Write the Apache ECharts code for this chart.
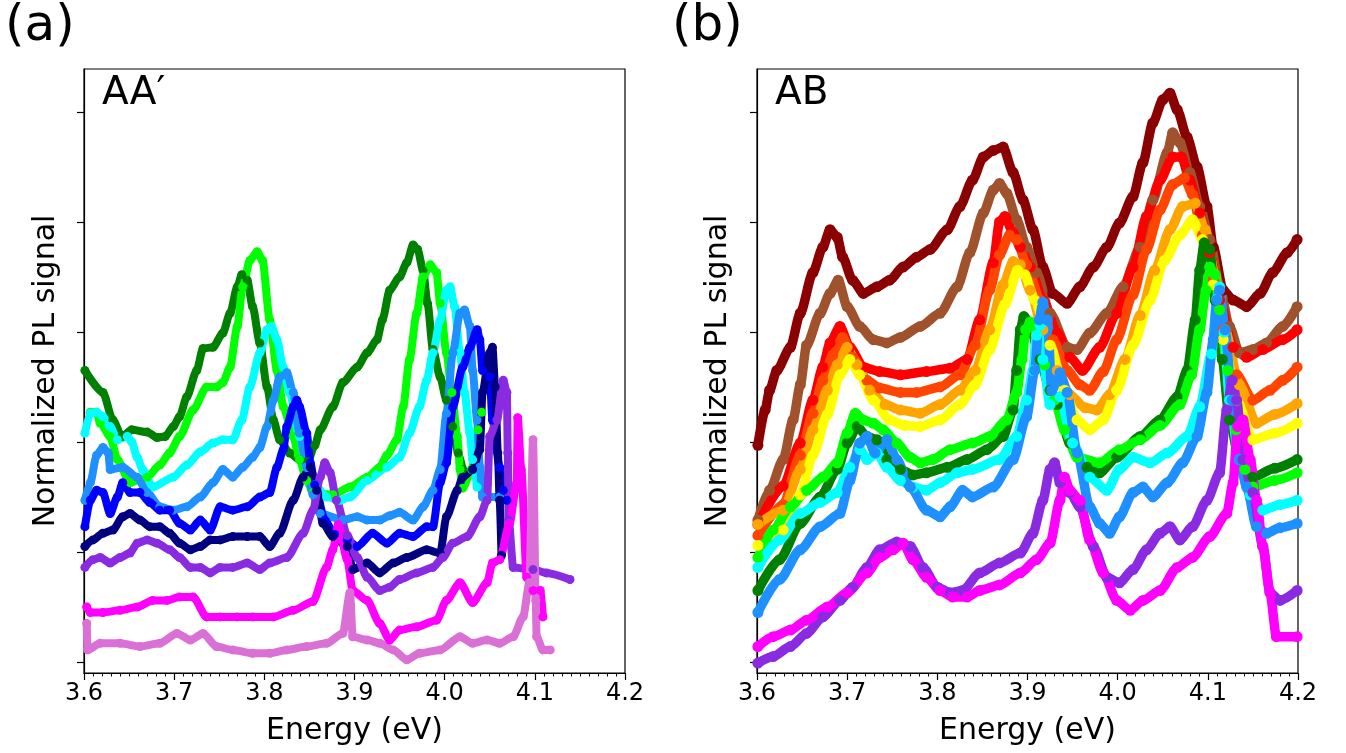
<!DOCTYPE html>
<html>
<head>
<meta charset="utf-8">
<script src="https://cdn.jsdelivr.net/npm/echarts@6/dist/echarts.min.js"></script>
<style>
html,body{margin:0;padding:0;background:#fff;}
#chart{width:1346px;height:753px;}
</style>
</head>
<body>
<div id="chart"></div>
<script>
// ---------------- DATA ----------------
var xTicks = [3.6, 3.7, 3.8, 3.9, 4.0, 4.1, 4.2];
var yTicks = [0, 1, 2, 3, 4, 5];
var panelLabels = ['(a)', '(b)'];
var stackLabels = ['AA\u2032', 'AB'];
var xTitle = 'Energy (eV)';
var yTitle = 'Normalized PL signal';

// Panel (a) AA'
var aGreen = [[3.601,2.65],[3.621,2.45],[3.632,2.20],[3.642,2.05],[3.653,2.11],[3.670,2.09],[3.681,2.04],[3.690,2.05],[3.699,2.14],[3.706,2.23],[3.714,2.41],[3.725,2.65],[3.732,2.85],[3.743,2.86],[3.754,2.99],[3.762,3.17],[3.770,3.41],[3.775,3.52],[3.781,3.47],[3.787,3.23],[3.795,2.90],[3.803,2.50],[3.810,2.20],[3.817,2.02],[3.828,1.90],[3.839,1.84],[3.848,1.82],[3.856,1.97],[3.862,2.11],[3.876,2.32],[3.887,2.54],[3.903,2.68],[3.914,2.81],[3.925,2.93],[3.931,3.11],[3.939,3.38],[3.950,3.50],[3.958,3.63],[3.965,3.79],[3.970,3.75],[3.976,3.56],[3.981,3.26],[3.987,2.84],[3.995,2.59],[4.002,2.38],[4.009,2.14],[4.015,1.90],[4.020,1.75]];
var aLime = [[3.607,2.27],[3.614,2.27],[3.618,2.17],[3.629,2.05],[3.637,1.84],[3.651,1.63],[3.670,1.68],[3.684,1.79],[3.695,1.90],[3.706,2.05],[3.721,2.29],[3.736,2.50],[3.747,2.50],[3.754,2.54],[3.762,2.68],[3.770,3.05],[3.776,3.41],[3.784,3.65],[3.792,3.73],[3.798,3.65],[3.806,3.11],[3.814,2.65],[3.821,2.32],[3.832,2.05],[3.839,1.84],[3.847,1.65],[3.854,1.54],[3.876,1.52],[3.895,1.59],[3.914,1.68],[3.928,1.77],[3.936,1.88],[3.947,2.02],[3.954,2.32],[3.961,2.75],[3.969,3.17],[3.976,3.50],[3.984,3.61],[3.991,3.54],[3.995,3.26],[4.002,2.81],[4.008,2.45],[4.014,2.05],[4.017,1.75],[4.020,1.58],[4.030,1.75],[4.037,2.11],[4.041,2.27]];
var aCyan = [[3.601,2.08],[3.607,2.26],[3.614,2.27],[3.621,2.23],[3.629,2.14],[3.637,2.02],[3.648,2.05],[3.653,2.00],[3.659,1.86],[3.665,1.75],[3.676,1.59],[3.699,1.68],[3.714,1.79],[3.729,1.91],[3.743,1.99],[3.754,2.02],[3.765,2.02],[3.775,2.20],[3.784,2.50],[3.795,2.81],[3.803,3.02],[3.808,3.05],[3.814,2.93],[3.821,2.68],[3.828,2.45],[3.839,2.05],[3.847,1.77],[3.856,1.61],[3.869,1.50],[3.884,1.47],[3.895,1.50],[3.914,1.65],[3.936,1.77],[3.950,1.86],[3.961,2.08],[3.972,2.32],[3.980,2.56],[3.987,2.81],[3.995,3.11],[4.002,3.38],[4.006,3.41],[4.011,3.23],[4.017,2.81],[4.022,2.45],[4.028,2.08],[4.031,1.84],[4.036,1.59]];
var aDodger = [[3.601,1.47],[3.607,1.63],[3.614,1.88],[3.621,1.95],[3.627,1.90],[3.629,1.75],[3.643,1.77],[3.659,1.68],[3.670,1.54],[3.684,1.41],[3.699,1.38],[3.714,1.41],[3.729,1.50],[3.743,1.63],[3.754,1.75],[3.765,1.68],[3.776,1.77],[3.787,1.86],[3.795,1.95],[3.803,2.14],[3.810,2.38],[3.817,2.59],[3.825,2.63],[3.832,2.45],[3.839,2.08],[3.847,1.77],[3.854,1.52],[3.862,1.35],[3.887,1.29],[3.903,1.32],[3.914,1.29],[3.928,1.29],[3.939,1.33],[3.950,1.36],[3.965,1.29],[3.976,1.41],[3.987,1.56],[3.995,1.75],[4.002,2.26],[4.009,2.81],[4.017,3.17],[4.022,3.20],[4.028,3.05],[4.031,2.65],[4.036,2.20],[4.039,1.77],[4.042,1.50],[4.061,1.50]];
var aBlue = [[3.601,1.23],[3.607,1.47],[3.614,1.56],[3.621,1.54],[3.629,1.35],[3.637,1.50],[3.643,1.63],[3.651,1.54],[3.662,1.54],[3.673,1.45],[3.684,1.38],[3.695,1.38],[3.706,1.26],[3.718,1.20],[3.729,1.29],[3.740,1.20],[3.751,1.41],[3.765,1.38],[3.781,1.41],[3.795,1.50],[3.806,1.54],[3.814,1.77],[3.821,1.93],[3.825,2.14],[3.832,2.32],[3.836,2.38],[3.839,2.32],[3.847,2.08],[3.851,1.81],[3.856,1.61],[3.867,1.29],[3.878,1.16],[3.892,1.11],[3.903,1.05],[3.920,1.17],[3.936,1.08],[3.950,1.17],[3.965,1.14],[3.980,1.23],[3.987,1.23],[3.995,1.63],[4.002,1.81],[4.009,2.32],[4.020,2.68],[4.028,2.86],[4.036,3.02],[4.039,2.93],[4.042,2.65],[4.050,2.59],[4.053,2.20],[4.061,1.77],[4.065,1.56],[4.069,1.47]];
var aNavy = [[3.601,1.05],[3.610,1.11],[3.621,1.17],[3.632,1.20],[3.643,1.32],[3.651,1.35],[3.662,1.29],[3.673,1.23],[3.684,1.23],[3.695,1.17],[3.706,1.08],[3.718,1.02],[3.729,1.05],[3.740,1.11],[3.751,1.11],[3.765,1.14],[3.781,1.14],[3.795,1.14],[3.806,1.05],[3.817,1.17],[3.832,1.47],[3.843,1.68],[3.851,1.77],[3.858,1.56],[3.865,1.26],[3.876,1.14],[3.892,1.05],[3.898,0.84],[3.914,0.90],[3.928,0.81],[3.943,0.90],[3.958,0.95],[3.980,1.02],[3.995,0.99],[4.002,1.32],[4.014,1.56],[4.020,1.68],[4.031,1.75],[4.039,1.93],[4.042,2.45],[4.050,2.81],[4.053,2.86],[4.056,2.50],[4.059,1.90],[4.061,1.47],[4.063,0.97]];
var aViolet = [[3.601,0.86],[3.610,0.93],[3.618,0.95],[3.629,0.90],[3.640,0.95],[3.651,0.99],[3.659,1.08],[3.670,1.11],[3.681,1.08],[3.695,1.02],[3.706,0.95],[3.718,0.86],[3.729,0.86],[3.740,0.81],[3.751,0.86],[3.765,0.86],[3.781,0.90],[3.795,0.84],[3.806,0.90],[3.825,0.95],[3.843,1.17],[3.854,1.38],[3.862,1.68],[3.867,1.81],[3.873,1.72],[3.880,1.47],[3.892,1.15],[3.903,0.95],[3.914,0.77],[3.928,0.65],[3.939,0.68],[3.950,0.75],[3.969,0.81],[3.987,0.86],[3.998,0.95],[4.009,1.08],[4.025,1.14],[4.039,1.32],[4.047,1.47],[4.050,2.05],[4.058,2.20],[4.065,2.56],[4.069,2.45],[4.070,1.90],[4.071,1.29],[4.076,0.86],[4.098,0.84],[4.113,0.81],[4.139,0.75]];
var aMagenta = [[3.603,0.50],[3.607,0.45],[3.621,0.45],[3.640,0.47],[3.659,0.50],[3.676,0.56],[3.692,0.56],[3.706,0.59],[3.721,0.59],[3.736,0.41],[3.751,0.41],[3.770,0.41],[3.787,0.41],[3.810,0.41],[3.832,0.47],[3.854,0.55],[3.869,0.86],[3.876,1.02],[3.882,1.25],[3.892,0.93],[3.898,0.65],[3.914,0.56],[3.928,0.35],[3.939,0.20],[3.950,0.29],[3.969,0.32],[3.991,0.38],[4.002,0.56],[4.017,0.72],[4.031,0.54],[4.047,0.72],[4.053,0.90],[4.061,0.93],[4.072,1.26],[4.080,1.63],[4.081,2.22],[4.085,1.75],[4.091,0.77],[4.098,0.65],[4.106,0.65],[4.109,0.41]];
var aOrchid = [[3.603,0.35],[3.604,0.11],[3.618,0.17],[3.640,0.17],[3.662,0.14],[3.684,0.17],[3.703,0.26],[3.718,0.20],[3.732,0.26],[3.747,0.14],[3.765,0.11],[3.787,0.08],[3.806,0.08],[3.825,0.11],[3.847,0.14],[3.869,0.17],[3.887,0.26],[3.895,0.63],[3.898,0.23],[3.914,0.20],[3.928,0.17],[3.943,0.11],[3.958,0.02],[3.972,0.08],[3.995,0.11],[4.017,0.23],[4.031,0.17],[4.047,0.20],[4.061,0.17],[4.076,0.23],[4.087,0.41],[4.094,0.72],[4.098,2.02],[4.101,0.56],[4.102,0.23],[4.109,0.11],[4.117,0.11]];

// Panel (b) AB
var bDarkred = [[3.601,1.97],[3.609,2.29],[3.614,2.47],[3.622,2.65],[3.637,2.86],[3.648,3.17],[3.662,3.54],[3.673,3.77],[3.681,3.93],[3.689,3.86],[3.695,3.68],[3.706,3.47],[3.718,3.35],[3.733,3.41],[3.747,3.47],[3.762,3.59],[3.777,3.68],[3.792,3.75],[3.811,3.93],[3.825,4.14],[3.839,4.38],[3.851,4.59],[3.862,4.65],[3.873,4.68],[3.884,4.45],[3.895,4.20],[3.906,3.93],[3.917,3.59],[3.928,3.35],[3.944,3.26],[3.958,3.41],[3.973,3.59],[3.988,3.77],[4.002,3.99],[4.017,4.23],[4.028,4.54],[4.039,4.90],[4.050,5.11],[4.058,5.17],[4.066,5.02],[4.077,4.77],[4.088,4.50],[4.099,4.14],[4.106,3.77],[4.117,3.38],[4.128,3.29],[4.143,3.23],[4.158,3.35],[4.172,3.54],[4.188,3.72],[4.199,3.84]];
var bSienna = [[3.601,1.29],[3.614,1.56],[3.629,1.84],[3.640,2.20],[3.648,2.52],[3.655,2.88],[3.670,3.17],[3.681,3.35],[3.690,3.47],[3.700,3.23],[3.714,3.05],[3.729,2.93],[3.744,2.90],[3.759,2.95],[3.781,3.05],[3.803,3.17],[3.822,3.41],[3.836,3.72],[3.851,4.08],[3.862,4.29],[3.869,4.35],[3.877,4.26],[3.888,4.02],[3.899,3.77],[3.910,3.54],[3.925,3.17],[3.944,2.86],[3.955,2.84],[3.969,2.99],[3.988,3.17],[4.006,3.41],[4.025,3.77],[4.039,4.20],[4.055,4.63],[4.061,4.81],[4.069,4.72],[4.080,4.45],[4.091,4.14],[4.102,3.84],[4.113,3.41],[4.124,3.05],[4.135,2.81],[4.150,2.84],[4.165,2.90],[4.183,3.05],[4.199,3.23]];
var bRed = [[3.601,1.25],[3.629,1.60],[3.648,1.99],[3.662,2.38],[3.673,2.68],[3.681,2.90],[3.692,3.05],[3.703,2.86],[3.718,2.68],[3.736,2.64],[3.759,2.61],[3.788,2.64],[3.814,2.67],[3.833,2.75],[3.847,3.11],[3.862,3.63],[3.869,4.00],[3.875,4.05],[3.884,3.90],[3.892,3.77],[3.903,3.59],[3.917,3.29],[3.933,2.99],[3.947,2.77],[3.961,2.65],[3.980,2.86],[3.999,3.17],[4.017,3.59],[4.032,4.05],[4.047,4.38],[4.061,4.59],[4.071,4.59],[4.080,4.38],[4.091,4.08],[4.102,3.72],[4.113,3.29],[4.128,2.86],[4.143,2.77],[4.161,2.84],[4.183,2.93],[4.199,3.02]];
var bOrangered = [[3.601,1.15],[3.629,1.43],[3.648,1.88],[3.662,2.26],[3.673,2.56],[3.684,2.79],[3.695,2.95],[3.706,2.77],[3.722,2.56],[3.736,2.49],[3.759,2.45],[3.777,2.45],[3.803,2.50],[3.825,2.61],[3.842,2.88],[3.858,3.38],[3.869,3.70],[3.880,3.88],[3.888,3.84],[3.899,3.61],[3.914,3.29],[3.928,2.93],[3.944,2.65],[3.958,2.52],[3.969,2.47],[3.984,2.64],[3.999,2.93],[4.017,3.34],[4.032,3.75],[4.047,4.11],[4.061,4.34],[4.074,4.40],[4.083,4.25],[4.094,3.88],[4.106,3.47],[4.117,3.02],[4.132,2.61],[4.150,2.38],[4.169,2.47],[4.183,2.56],[4.199,2.68]];
var bOrange = [[3.601,1.25],[3.629,1.38],[3.648,1.75],[3.662,2.11],[3.678,2.47],[3.689,2.70],[3.700,2.86],[3.711,2.70],[3.725,2.47],[3.742,2.34],[3.759,2.29],[3.781,2.26],[3.803,2.34],[3.825,2.47],[3.842,2.65],[3.858,3.02],[3.873,3.43],[3.884,3.64],[3.892,3.61],[3.903,3.38],[3.917,3.02],[3.933,2.65],[3.947,2.43],[3.964,2.31],[3.977,2.29],[3.991,2.43],[4.008,2.75],[4.025,3.15],[4.041,3.56],[4.058,3.93],[4.072,4.14],[4.086,4.17],[4.097,3.93],[4.108,3.52],[4.119,3.02],[4.135,2.52],[4.154,2.17],[4.174,2.25],[4.199,2.35]];
var bYellow = [[3.601,1.06],[3.629,1.20],[3.648,1.52],[3.662,1.88],[3.678,2.25],[3.692,2.61],[3.703,2.75],[3.714,2.61],[3.729,2.38],[3.747,2.20],[3.764,2.15],[3.781,2.14],[3.803,2.20],[3.825,2.34],[3.842,2.52],[3.858,2.84],[3.875,3.25],[3.889,3.56],[3.897,3.52],[3.908,3.29],[3.925,2.88],[3.941,2.47],[3.955,2.20],[3.969,2.11],[3.984,2.20],[3.999,2.47],[4.017,2.88],[4.036,3.29],[4.052,3.65],[4.069,3.88],[4.083,4.02],[4.094,3.84],[4.106,3.43],[4.117,2.93],[4.132,2.38],[4.150,2.02],[4.174,2.08],[4.199,2.17]];
var bGreen = [[3.601,0.65],[3.625,0.93],[3.648,1.26],[3.670,1.50],[3.689,1.75],[3.700,1.99],[3.711,2.14],[3.722,2.05],[3.733,2.02],[3.744,1.84],[3.759,1.75],[3.773,1.70],[3.788,1.72],[3.811,1.77],[3.833,1.84],[3.855,1.93],[3.873,2.05],[3.884,2.29],[3.888,2.65],[3.892,3.02],[3.896,3.14],[3.903,3.06],[3.914,2.75],[3.925,2.47],[3.933,2.34],[3.947,1.99],[3.966,1.77],[3.980,1.72],[3.999,1.86],[4.025,2.05],[4.047,2.20],[4.066,2.41],[4.077,2.65],[4.086,3.11],[4.091,3.56],[4.096,3.81],[4.102,3.75],[4.108,3.29],[4.116,2.75],[4.124,2.20],[4.135,1.84],[4.150,1.68],[4.174,1.76],[4.199,1.84]];
var bLime = [[3.601,0.95],[3.618,1.20],[3.637,1.41],[3.655,1.56],[3.673,1.68],[3.689,1.81],[3.700,2.08],[3.709,2.26],[3.718,2.20],[3.729,2.17],[3.740,2.11],[3.755,1.99],[3.770,1.86],[3.781,1.81],[3.795,1.84],[3.814,1.93],[3.839,1.99],[3.858,2.05],[3.877,2.20],[3.888,2.45],[3.894,2.75],[3.898,3.02],[3.903,3.09],[3.909,3.02],[3.919,2.70],[3.930,2.38],[3.941,2.11],[3.955,1.86],[3.980,1.81],[4.002,1.93],[4.025,2.02],[4.047,2.15],[4.069,2.34],[4.082,2.61],[4.091,3.02],[4.098,3.38],[4.102,3.59],[4.108,3.52],[4.113,3.20],[4.122,2.65],[4.131,2.11],[4.141,1.75],[4.150,1.59],[4.174,1.65],[4.199,1.72]];
var bCyan = [[3.601,0.86],[3.625,1.11],[3.648,1.35],[3.670,1.45],[3.689,1.54],[3.703,1.77],[3.714,1.93],[3.722,1.84],[3.733,1.90],[3.744,1.77],[3.759,1.65],[3.773,1.59],[3.788,1.56],[3.803,1.63],[3.822,1.72],[3.839,1.75],[3.869,1.84],[3.888,2.05],[3.899,2.38],[3.906,2.65],[3.910,2.97],[3.914,3.06],[3.917,2.75],[3.925,2.34],[3.936,2.41],[3.950,1.99],[3.969,1.68],[3.988,1.56],[4.002,1.75],[4.017,1.86],[4.036,1.81],[4.055,1.90],[4.077,2.05],[4.091,2.32],[4.104,2.80],[4.110,3.30],[4.113,3.41],[4.118,3.00],[4.124,2.38],[4.135,1.84],[4.147,1.52],[4.161,1.38],[4.180,1.43],[4.199,1.47]];
var bDodger = [[3.601,0.45],[3.625,0.75],[3.648,1.02],[3.670,1.23],[3.692,1.35],[3.703,1.65],[3.714,1.99],[3.722,2.05],[3.731,1.90],[3.744,2.02],[3.755,1.84],[3.770,1.59],[3.788,1.38],[3.803,1.32],[3.814,1.41],[3.828,1.56],[3.839,1.50],[3.862,1.59],[3.884,1.84],[3.899,2.23],[3.908,2.65],[3.913,3.11],[3.917,3.27],[3.922,3.11],[3.927,2.47],[3.936,2.63],[3.944,2.45],[3.955,1.90],[3.969,1.41],[3.980,1.26],[3.991,1.17],[4.002,1.32],[4.017,1.54],[4.028,1.59],[4.039,1.50],[4.055,1.63],[4.072,1.81],[4.088,2.05],[4.099,2.45],[4.106,2.93],[4.110,3.29],[4.113,3.38],[4.119,3.02],[4.127,2.38],[4.135,1.84],[4.143,1.59],[4.154,1.23],[4.165,1.17],[4.180,1.22],[4.199,1.26]];
var bViolet = [[3.601,-0.01],[3.618,0.05],[3.637,0.14],[3.655,0.26],[3.673,0.41],[3.692,0.56],[3.706,0.68],[3.722,0.86],[3.736,1.02],[3.755,1.09],[3.770,1.05],[3.784,0.86],[3.800,0.68],[3.814,0.63],[3.828,0.65],[3.847,0.81],[3.869,0.90],[3.892,0.99],[3.906,1.17],[3.917,1.47],[3.925,1.75],[3.930,1.81],[3.936,1.63],[3.947,1.54],[3.958,1.41],[3.973,1.05],[3.988,0.77],[4.002,0.72],[4.017,0.84],[4.032,1.02],[4.047,1.17],[4.058,1.23],[4.069,1.11],[4.083,1.23],[4.099,1.47],[4.113,1.72],[4.121,2.29],[4.127,2.56],[4.132,2.38],[4.139,1.84],[4.150,1.54],[4.161,1.05],[4.169,0.63],[4.180,0.56],[4.199,0.65]];
var bMagenta = [[3.601,0.14],[3.618,0.23],[3.637,0.29],[3.655,0.38],[3.678,0.50],[3.700,0.63],[3.722,0.81],[3.736,0.95],[3.751,1.02],[3.762,1.08],[3.773,0.93],[3.788,0.77],[3.803,0.65],[3.817,0.59],[3.833,0.59],[3.847,0.65],[3.869,0.70],[3.892,0.81],[3.910,0.93],[3.925,1.08],[3.936,1.47],[3.941,1.68],[3.947,1.56],[3.958,1.47],[3.969,1.11],[3.984,0.81],[3.999,0.56],[4.014,0.47],[4.028,0.56],[4.047,0.65],[4.066,0.86],[4.083,0.95],[4.102,1.14],[4.121,1.35],[4.128,1.63],[4.133,2.14],[4.139,2.20],[4.147,1.84],[4.154,1.47],[4.161,1.05],[4.169,0.63],[4.176,0.23],[4.199,0.23]];

var aSeries = [
  {d: aGreen, c: '#008000'}, {d: aLime, c: '#00ff00'}, {d: aCyan, c: '#00ffff'},
  {d: aDodger, c: '#1e90ff'}, {d: aBlue, c: '#0000ff'}, {d: aNavy, c: '#000080'},
  {d: aViolet, c: '#8a2be2'}, {d: aMagenta, c: '#ff00ff'}, {d: aOrchid, c: '#da70d6'}
];
var bSeries = [
  {d: bDarkred, c: '#8b0000'}, {d: bSienna, c: '#a0522d'}, {d: bRed, c: '#ff0000'},
  {d: bOrangered, c: '#ff4500'}, {d: bOrange, c: '#ffa500'}, {d: bYellow, c: '#ffff00'},
  {d: bGreen, c: '#008000'}, {d: bLime, c: '#00ff00'}, {d: bCyan, c: '#00ffff'},
  {d: bDodger, c: '#1e90ff'}, {d: bViolet, c: '#8a2be2'}, {d: bMagenta, c: '#ff00ff'}
];

// ---------------- CHART ----------------
var FONT = 'DejaVu Sans';
var chart = echarts.init(document.getElementById('chart'), null, {renderer: 'canvas'});
var grids = [
  {left: 84, top: 69, width: 541, height: 604},
  {left: 757, top: 69, width: 541, height: 604}
];
function xAx(i) {
  return {
    type: 'value', gridIndex: i, min: xTicks[0], max: xTicks[xTicks.length - 1], interval: 0.1,
    axisLine: {show: true, onZero: false, lineStyle: {color: '#000', width: 1.2}},
    axisTick: {show: true, inside: false, length: 7, lineStyle: {color: '#000', width: 1.2}},
    minorTick: {show: true, splitNumber: 10, length: 3.5, lineStyle: {color: '#000', width: 1}},
    splitLine: {show: false}, minorSplitLine: {show: false},
    axisLabel: {show: true, margin: 9, color: '#000', fontSize: 24, fontFamily: FONT,
      formatter: function (v) { return v.toFixed(1); }}
  };
}
function yAx(i) {
  return {
    type: 'value', gridIndex: i, min: -0.1, max: 5.39,
    axisLine: {show: true, onZero: false, lineStyle: {color: '#000', width: 1.2}},
    axisTick: {show: true, inside: false, length: 7, customValues: yTicks, lineStyle: {color: '#000', width: 1.2}},
    axisLabel: {show: false, customValues: yTicks},
    splitLine: {show: false}
  };
}
var series = [];
function addSeries(list, idx, w, sz) {
  list.forEach(function (s) {
    series.push({
      type: 'line', xAxisIndex: idx, yAxisIndex: idx, data: s.d,
      smooth: 0.25, smoothMonotone: 'x',
      showSymbol: true, symbol: 'circle', symbolSize: sz,
      itemStyle: {color: s.c, borderWidth: 0},
      lineStyle: {color: s.c, width: w, join: 'round', cap: 'round'},
      emphasis: {disabled: true}, animation: false, clip: true, z: 2
    });
  });
}
addSeries(aSeries, 0, 8, 9);
addSeries(bSeries, 1, 9.5, 11);

var graphics = [];
var pX = [5, 672];
var sX = [102, 775];
var yTX = [46, 718];
for (var i = 0; i < 2; i++) {
  graphics.push({type: 'text', left: pX[i], top: 2, style: {text: panelLabels[i], font: '50px "DejaVu Sans"', fill: '#000'}});
  graphics.push({type: 'text', left: sX[i], top: 74, style: {text: stackLabels[i], font: '39px "DejaVu Sans"', fill: '#000'}});
  graphics.push({type: 'text', x: grids[i].left + grids[i].width / 2, y: 731,
    style: {text: xTitle, font: '30px "DejaVu Sans"', fill: '#000', align: 'center', verticalAlign: 'middle'}});
  graphics.push({type: 'text', x: yTX[i], y: 371, rotation: Math.PI / 2,
    style: {text: yTitle, font: '30px "DejaVu Sans"', fill: '#000', align: 'center', verticalAlign: 'middle'}});
}

chart.setOption({
  animation: false,
  backgroundColor: '#fff',
  grid: grids.map(function (g) { return Object.assign({show: true, borderColor: '#000', borderWidth: 1.2, backgroundColor: 'transparent'}, g); }),
  xAxis: [xAx(0), xAx(1)],
  yAxis: [yAx(0), yAx(1)],
  series: series,
  graphic: graphics
});
</script>
</body>
</html>
